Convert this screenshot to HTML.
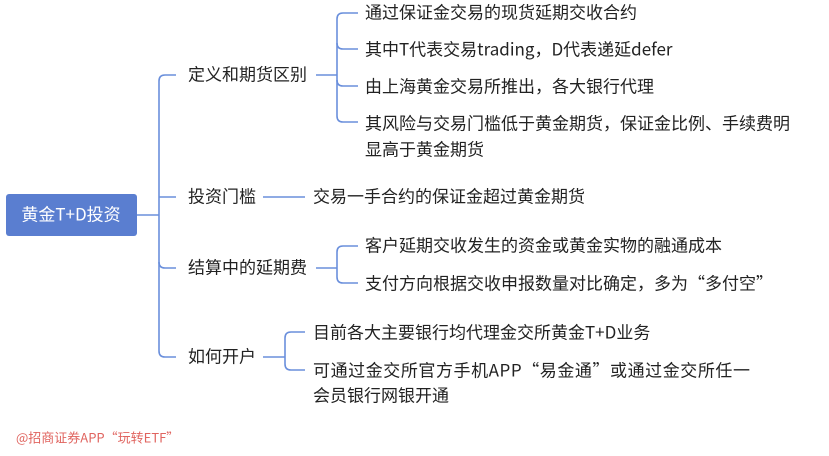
<!DOCTYPE html>
<html><head><meta charset="utf-8"><style>
html,body{margin:0;padding:0;background:#fff;}
svg text{font-family:"Noto Sans CJK SC","Liberation Sans",sans-serif;font-size:17px;fill:#222;dominant-baseline:central;}
</style></head><body>
<svg width="829" height="451" viewBox="0 0 829 451" xmlns="http://www.w3.org/2000/svg">
<g fill="none" stroke="#6a8fdc" stroke-width="1.6">
<path d="M137 215 H159"/>
<path d="M176 75 H165 Q159 75 159 81 V351 Q159 357 165 357 H176"/>
<path d="M159 197 H176"/>
<path d="M159 262 Q159 268 165 268 H176"/>
<path d="M316 75 H337"/>
<path d="M358 13 H343 Q337 13 337 19 V116 Q337 122 343 122 H358"/>
<path d="M337 43 Q337 49 343 49 H358"/>
<path d="M337 80 Q337 86 343 86 H358"/>
<path d="M263 197 H305"/>
<path d="M316 268 H337"/>
<path d="M358 246 H343 Q337 246 337 252 V277 Q337 283 343 283 H358"/>
<path d="M263 357 H285"/>
<path d="M305 332 H291 Q285 332 285 338 V364 Q285 370 291 370 H305"/>
</g>
<rect x="6" y="194" width="131" height="42" rx="3" fill="#5a7ed0"/>
<g transform="translate(0,-2)">
<text x="71" y="215" text-anchor="middle" style="fill:#fff">黄金T+D投资</text>
<text x="188" y="75">定义和期货区别</text>
<text x="188" y="197">投资门槛</text>
<text x="188" y="268">结算中的延期费</text>
<text x="188" y="357">如何开户</text>
<text x="365" y="13">通过保证金交易的现货延期交收合约</text>
<text x="365" y="50">其中T代表交易trading，D代表递延defer</text>
<text x="365" y="87">由上海黄金交易所推出，各大银行代理</text>
<text x="365" y="124">其风险与交易门槛低于黄金期货，保证金比例、手续费明</text>
<text x="365" y="150">显高于黄金期货</text>
<text x="313" y="197">交易一手合约的保证金超过黄金期货</text>
<text x="365" y="246">客户延期交收发生的资金或黄金实物的融通成本</text>
<text x="365" y="284">支付方向根据交收申报数量对比确定，多为“多付空”</text>
<text x="313" y="333">目前各大主要银行均代理金交所黄金T+D业务</text>
<text x="313" y="371" textLength="437">可通过金交所官方手机APP“易金通”或通过金交所任一</text>
<text x="313" y="396">会员银行网银开通</text>
<text x="16" y="439" style="font-size:13px;fill:#e0645f">@招商证券APP“玩转ETF”</text>
</g>
</svg>
</body></html>
